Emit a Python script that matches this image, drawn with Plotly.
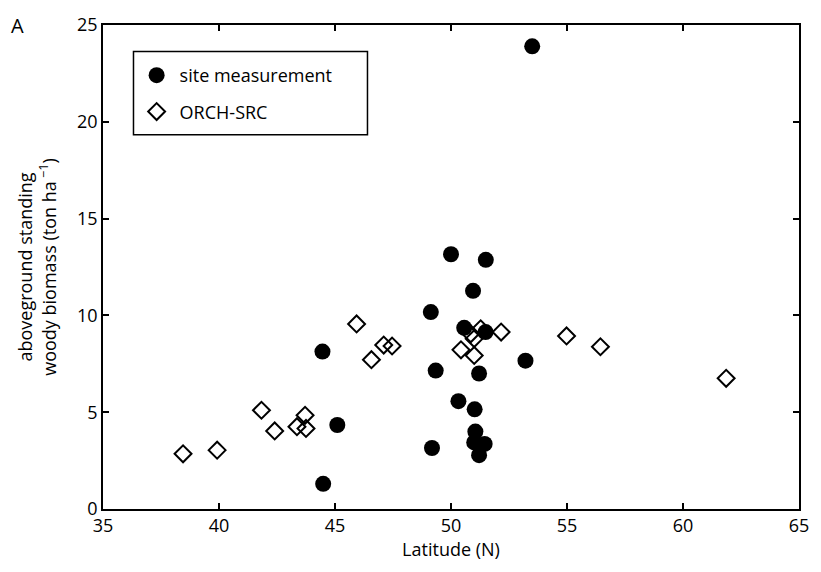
import plotly.graph_objects as go

# site measurements (filled circles)
site_lat = [53.5, 50.0, 51.5, 50.95, 49.13, 50.57, 51.49, 44.46, 53.21, 49.34,
            51.21, 50.32, 51.02, 45.1, 51.05, 51.0, 51.45, 49.18, 51.21, 44.49]
site_bio = [23.9, 13.16, 12.87, 11.27, 10.17, 9.36, 9.14, 8.13, 7.66, 7.15,
            7.0, 5.57, 5.15, 4.34, 4.0, 3.44, 3.36, 3.15, 2.78, 1.3]

# ORCH-SRC model (open diamonds)
orch_lat = [38.45, 39.92, 41.83, 42.4, 43.36, 43.71, 43.75, 45.93, 46.57, 47.1,
            47.46, 50.43, 51.0, 50.85, 51.0, 51.28, 52.16, 54.98, 56.44, 61.86]
orch_bio = [2.85, 3.04, 5.1, 4.03, 4.25, 4.84, 4.16, 9.56, 7.71, 8.47,
            8.42, 8.22, 7.93, 9.05, 8.8, 9.31, 9.14, 8.94, 8.38, 6.75]

FONT = "Open Sans"

fig = go.Figure()

fig.add_trace(go.Scatter(
    x=site_lat, y=site_bio,
    mode="markers",
    name="site measurement",
    legendgroup="a",
    marker=dict(symbol="circle", size=16, color="black", line=dict(width=0))
))
fig.add_trace(go.Scatter(
    x=orch_lat, y=orch_bio,
    mode="markers",
    name="ORCH-SRC",
    legendgroup="b",
    marker=dict(symbol="diamond-open", size=13, color="black",
                line=dict(width=2, color="black"))
))

axis_style = dict(
    showgrid=False, zeroline=False,
    showline=True, linecolor="black", linewidth=1.5, mirror="ticks",
    ticks="inside", ticklen=6, tickwidth=1.5, tickcolor="black",
    tickfont=dict(family=FONT, size=18, color="black"),
)

fig.update_xaxes(
    range=[35, 65], tick0=35, dtick=5,
    title=dict(text="Latitude (N)", font=dict(family=FONT, size=18, color="black"), standoff=2),
    **axis_style
)
fig.update_yaxes(
    range=[0, 25], tick0=0, dtick=5,
    title=dict(text="aboveground standing<br>woody biomass (ton ha<sup> \u22121</sup>)",
               font=dict(family=FONT, size=18, color="black"), standoff=16),
    **axis_style
)

# legend box
fig.add_shape(type="rect", xref="paper", yref="paper",
              x0=0.0438, x1=0.380, y0=0.773, y1=0.945,
              line=dict(color="black", width=1.5), fillcolor="white", layer="below")

fig.add_annotation(text="A", xref="paper", yref="paper", x=-0.135, y=1.03,
                   xanchor="left", yanchor="top", showarrow=False,
                   font=dict(family=FONT, size=20, color="black"))

fig.update_layout(
    width=821, height=572,
    margin=dict(l=103, r=12, t=15, b=63),
    paper_bgcolor="white", plot_bgcolor="white",
    font=dict(family=FONT, size=18, color="black"),
    showlegend=True,
    legend=dict(x=0.044, y=0.934, xanchor="left", yanchor="top",
                bgcolor="rgba(0,0,0,0)", borderwidth=0,
                traceorder="grouped", tracegroupgap=10, itemwidth=36,
                font=dict(family=FONT, size=18, color="black")),
)

# page body has a default 8px margin; drop it so the figure fills the window
fig.write_html("out.html", config={"displayModeBar": False},
               post_script="document.body.style.margin='0';")
